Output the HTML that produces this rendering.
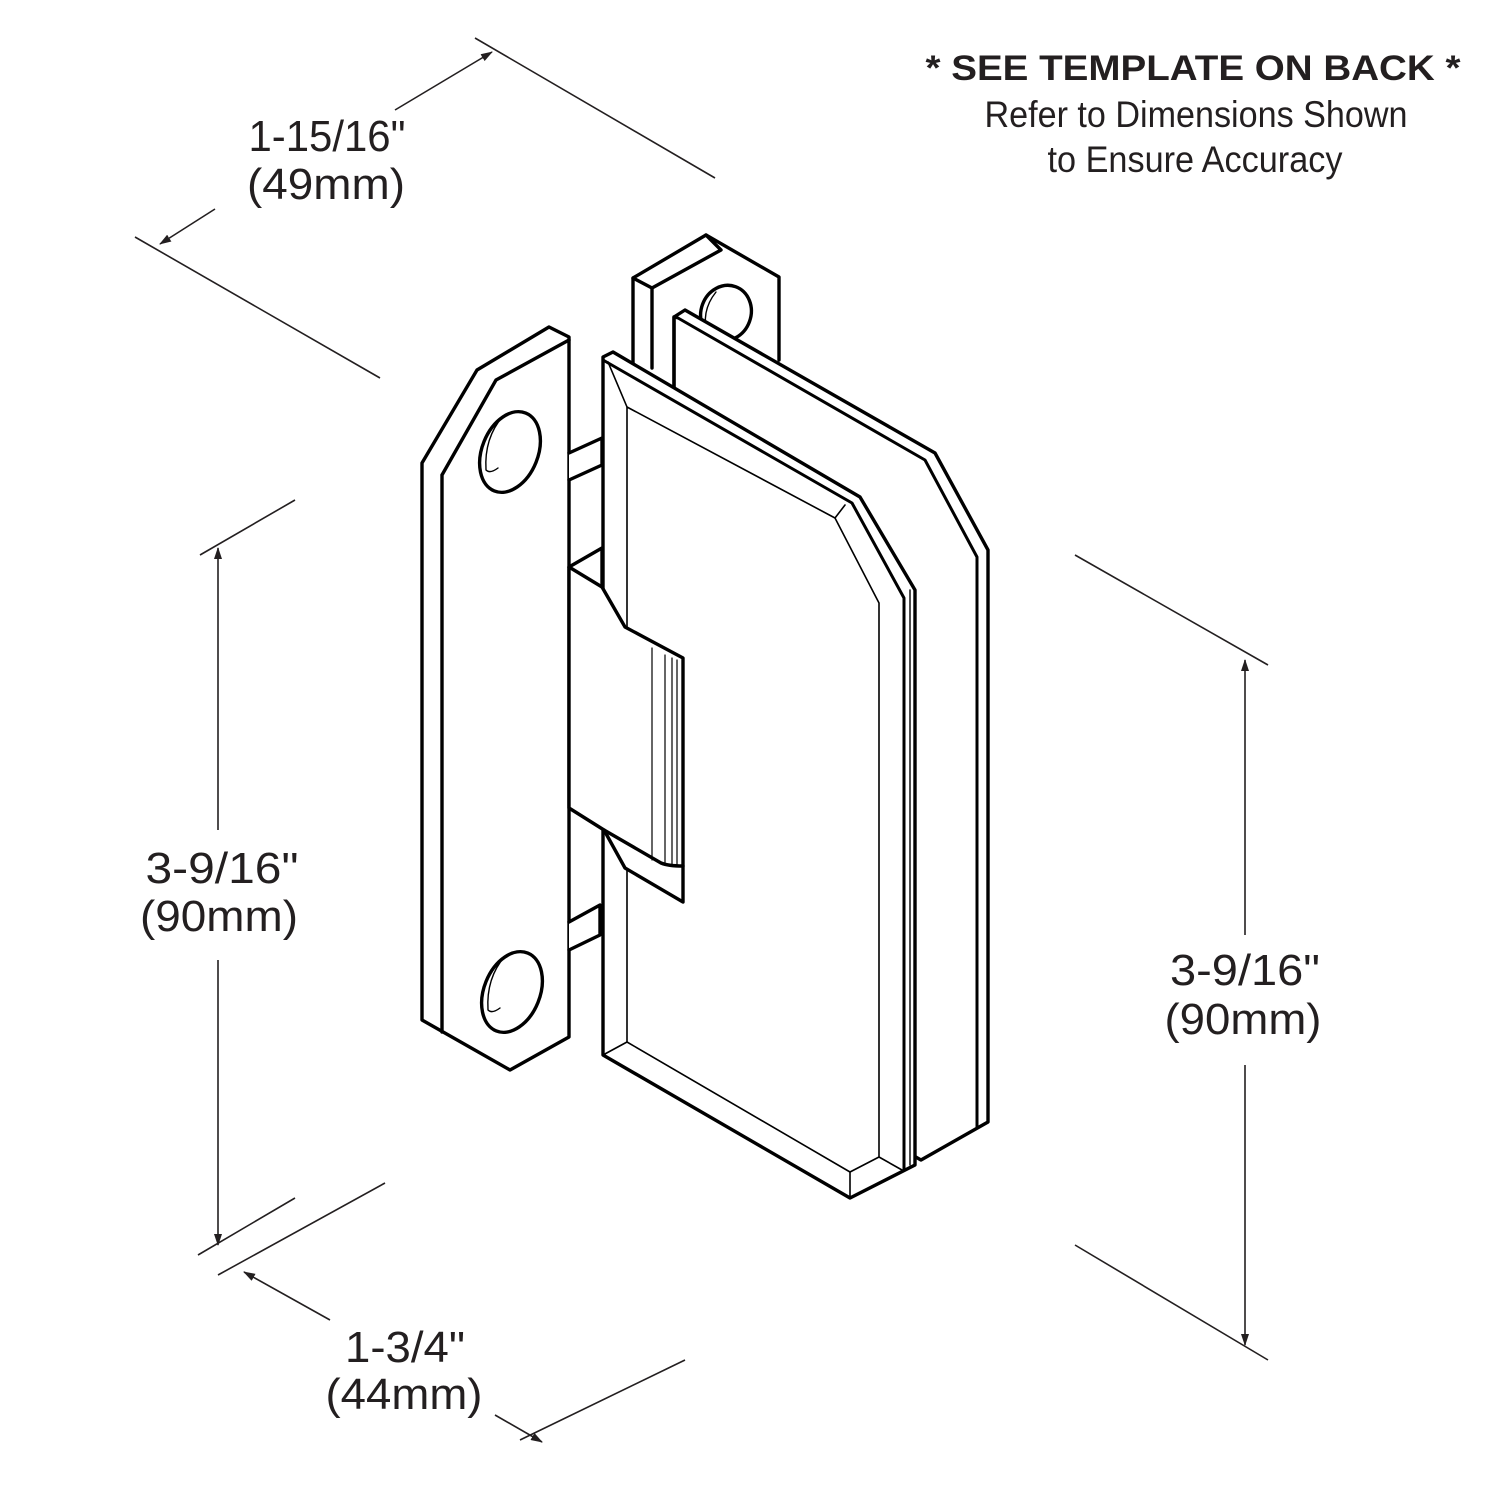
<!DOCTYPE html>
<html><head><meta charset="utf-8"><style>
html,body{margin:0;padding:0;background:#fff;}
svg{display:block;}
text{font-family:"Liberation Sans",sans-serif;fill:#231f20;}
</style></head><body>
<svg width="1500" height="1500" viewBox="0 0 1500 1500" xmlns="http://www.w3.org/2000/svg">
<defs>
<marker id="ar" markerWidth="12" markerHeight="8" refX="11" refY="4" orient="auto" markerUnits="userSpaceOnUse">
<path d="M0,0 L12,4 L0,8 Z" fill="#231f20"/>
</marker>
</defs>
<g stroke="#231f20" stroke-width="1.6" fill="none">
<line x1="135" y1="237" x2="380" y2="378"/>
<line x1="475" y1="38" x2="715" y2="178"/>
<line x1="215" y1="209" x2="160" y2="244" marker-end="url(#ar)"/>
<line x1="395" y1="110" x2="492" y2="52" marker-end="url(#ar)"/>
<line x1="200" y1="555" x2="295" y2="500"/>
<line x1="198" y1="1255" x2="295" y2="1198"/>
<line x1="218" y1="830" x2="218" y2="548" marker-end="url(#ar)"/>
<line x1="218" y1="960" x2="218" y2="1245" marker-end="url(#ar)"/>
<line x1="218" y1="1275" x2="385" y2="1183"/>
<line x1="520" y1="1440" x2="685" y2="1360"/>
<line x1="330" y1="1320" x2="244" y2="1272" marker-end="url(#ar)"/>
<line x1="495" y1="1415" x2="542" y2="1442" marker-end="url(#ar)"/>
<line x1="1075" y1="555" x2="1268" y2="665"/>
<line x1="1075" y1="1245" x2="1268" y2="1360"/>
<line x1="1245" y1="935" x2="1245" y2="660" marker-end="url(#ar)"/>
<line x1="1245" y1="1065" x2="1245" y2="1345" marker-end="url(#ar)"/>
</g>

<g stroke="#000" stroke-width="3.4" fill="#fff" stroke-linejoin="round" stroke-linecap="round">
<path d="M633,278 L706,235 L779,277 L779,360 L633,368 Z" stroke="none"/>
<path d="M633,368 L633,278 L706,235 L779,277 L779,360"/>
<path d="M633,278 L652,288 L721,250 L706,235" fill="none"/>
<line x1="652" y1="288" x2="652" y2="368"/>
<ellipse cx="726" cy="313" rx="25" ry="28" transform="rotate(20 726 313)"/>
<path d="M716,292 Q700,312 708,336" fill="none" stroke-width="1.4"/>

<path d="M674,317 L685,310 L935,453 L988,550 L988,1122 L921,1160 L674,1020 Z"/>
<path d="M674,317 L678,318 L925,460 L977,557 L977,1127" fill="none" stroke-width="3"/>
<line x1="674" y1="317" x2="674" y2="390"/>

<path d="M422,463 L477,370 L549,327 L569,337 L569,1037 L510,1070 L422,1020 Z"/>
<path d="M442,475 L442,1032 M442,475 L496,380 L569,340" fill="none"/>
<path d="M569,453 L602,438 L602,465 L569,480" />
<path d="M569,922 L600,905 L600,935 L569,950" />
<ellipse cx="510" cy="452" rx="28" ry="42" transform="rotate(22 510 452)"/>
<path d="M503,416 Q484,438 486,470 Q490,474 498,468" fill="none" stroke-width="1.4"/>
<ellipse cx="512" cy="992" rx="28" ry="42" transform="rotate(22 512 992)"/>
<path d="M505,956 Q486,978 488,1010 Q492,1014 500,1008" fill="none" stroke-width="1.4"/>

<path d="M603,357 L613,352 L860,497 L915,590 L915,1165 L850,1198 L603,1055 Z"/>
<path d="M603,360 L852,503 L904,598 L904,1170" fill="none" stroke-width="3"/>
<path d="M627,407 L627,1042 L850,1172 L879,1157 L879,603 L835,518 Z" fill="none" stroke-width="1.6"/>
<path d="M608,362 L627,407" fill="none" stroke-width="1.6"/>
<path d="M845,505 L835,518" fill="none" stroke-width="1.6"/>
<path d="M603,1055 L627,1042 M850,1172 L850,1198 M879,1157 L902,1170" fill="none" stroke-width="1.6"/>
<line x1="910" y1="590" x2="910" y2="1165" stroke-width="1.4"/>

<path d="M569,567 L602,548 L602,587 L625,627 L683,658 L683,902 L625,868 L604,830 L569,808 Z"/>
<path d="M569,567 L602,587" fill="none"/>
<path d="M604,830 L661,863 Q668,866 683,866" fill="none"/>
<g stroke-width="1.2" fill="none">
<line x1="652" y1="648" x2="652" y2="860"/>
<line x1="665" y1="655" x2="665" y2="864"/>
<line x1="672" y1="658" x2="672" y2="865"/>
<line x1="677" y1="660" x2="677" y2="865"/>
</g>
</g>

<text x="327" y="151" font-size="44" text-anchor="middle" textLength="157" lengthAdjust="spacingAndGlyphs">1-15/16"</text>
<text x="326" y="199" font-size="44" text-anchor="middle" textLength="158" lengthAdjust="spacingAndGlyphs">(49mm)</text>
<text x="222" y="883" font-size="44" text-anchor="middle" textLength="153" lengthAdjust="spacingAndGlyphs">3-9/16"</text>
<text x="219" y="931" font-size="44" text-anchor="middle" textLength="158" lengthAdjust="spacingAndGlyphs">(90mm)</text>
<text x="405" y="1362" font-size="44" text-anchor="middle" textLength="120" lengthAdjust="spacingAndGlyphs">1-3/4"</text>
<text x="404" y="1409" font-size="44" text-anchor="middle" textLength="157" lengthAdjust="spacingAndGlyphs">(44mm)</text>
<text x="1245" y="985" font-size="44" text-anchor="middle" textLength="150" lengthAdjust="spacingAndGlyphs">3-9/16"</text>
<text x="1243" y="1034" font-size="44" text-anchor="middle" textLength="157" lengthAdjust="spacingAndGlyphs">(90mm)</text>

<text x="1193" y="80" font-size="35" font-weight="bold" text-anchor="middle" textLength="535" lengthAdjust="spacingAndGlyphs">* SEE TEMPLATE ON BACK *</text>
<text x="1196" y="127" font-size="37" text-anchor="middle" textLength="423" lengthAdjust="spacingAndGlyphs">Refer to Dimensions Shown</text>
<text x="1195" y="172" font-size="37" text-anchor="middle" textLength="295" lengthAdjust="spacingAndGlyphs">to Ensure Accuracy</text>
</svg>
</body></html>
